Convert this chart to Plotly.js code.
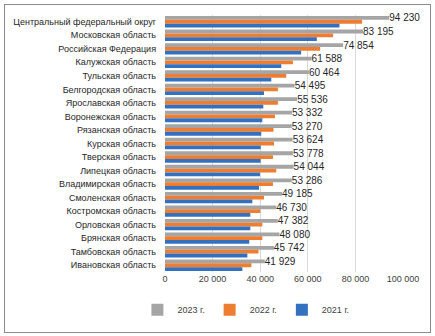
<!DOCTYPE html>
<html><head><meta charset="utf-8">
<script src="https://cdn.plot.ly/plotly-3.0.1.min.js"></script>
<style>
html,body{margin:0;padding:0;background:#fff;}
#wrap{position:relative;width:435px;height:336px;}
#chart{width:435px;height:336px;}
#frame{position:absolute;left:4px;top:4px;width:425px;height:327px;border:1px solid #8c8c8c;pointer-events:none;}
</style></head>
<body>
<div id="wrap"><div id="chart"></div><div id="frame"></div></div>
<script>
const categories = [
  "Центральный федеральный округ","Московская область","Российская Федерация",
  "Калужская область","Тульская область","Белгородская область","Ярославская область",
  "Воронежская область","Рязанская область","Курская область","Тверская область",
  "Липецкая область","Владимирская область","Смоленская область","Костромская область",
  "Орловская область","Брянская область","Тамбовская область","Ивановская область"
];
const values2023 = [94230,83195,74854,61588,60464,54495,55536,53332,53270,53624,53778,54044,53286,49185,46730,47382,48080,45742,41929];
const values2022 = [82800,70650,65200,53750,50950,47450,47450,46200,45600,45800,45350,46750,45350,41600,40050,40900,40900,39300,36300];
const values2021 = [73300,63800,57200,48850,44650,41600,41300,40900,40450,40200,40200,39900,39500,36700,35850,35850,35400,34600,32500];
const seriesNames = ["2023 г.","2022 г.","2021 г."];
const xTicks = [0,20000,40000,60000,80000,100000];

function fmt(v){ return String(v).replace(/\B(?=(\d{3})+(?!\d))/g," "); }

const traces = [
  {name:seriesNames[0], x:values2023, y:categories, type:"bar", orientation:"h",
   marker:{color:"#A5A5A5"}, text:values2023.map(fmt), textposition:"outside",
   constraintext:"none", textangle:0,
   textfont:{size:10,color:"#262626"}, cliponaxis:false, hoverinfo:"none"},
  {name:seriesNames[1], x:values2022, y:categories, type:"bar", orientation:"h",
   marker:{color:"#ED7D31"}, hoverinfo:"none"},
  {name:seriesNames[2], x:values2021, y:categories, type:"bar", orientation:"h",
   marker:{color:"#3370C0"}, hoverinfo:"none"}
];

const layout = {
  width:435, height:336,
  margin:{l:165, r:32, t:15, b:53},
  paper_bgcolor:"#fff", plot_bgcolor:"#fff",
  font:{family:"Liberation Sans, Arial, sans-serif", size:9, color:"#262626"},
  separators:", ",
  barmode:"group", bargap:0.16, bargroupgap:0,
  showlegend:true,
  legend:{orientation:"h", x:0.34, xanchor:"center", y:-0.09, yanchor:"top",
          font:{size:9,color:"#404040"}, traceorder:"normal", itemwidth:30},
  xaxis:{range:[0,100000], tickvals:xTicks, ticktext:xTicks.map(fmt),
         showgrid:true, gridcolor:"#d9d9d9", gridwidth:1, zeroline:false,
         showline:false, ticks:"", tickfont:{size:9,color:"#404040"}, fixedrange:true},
  yaxis:{type:"category", autorange:"reversed", showgrid:false, zeroline:false,
         showline:false, ticks:"", ticklabelstandoff:8,
         tickfont:{size:9,color:"#262626"}, fixedrange:true}
};

Plotly.newPlot("chart", traces, layout, {displayModeBar:false, staticPlot:true});
</script>
</body></html>
